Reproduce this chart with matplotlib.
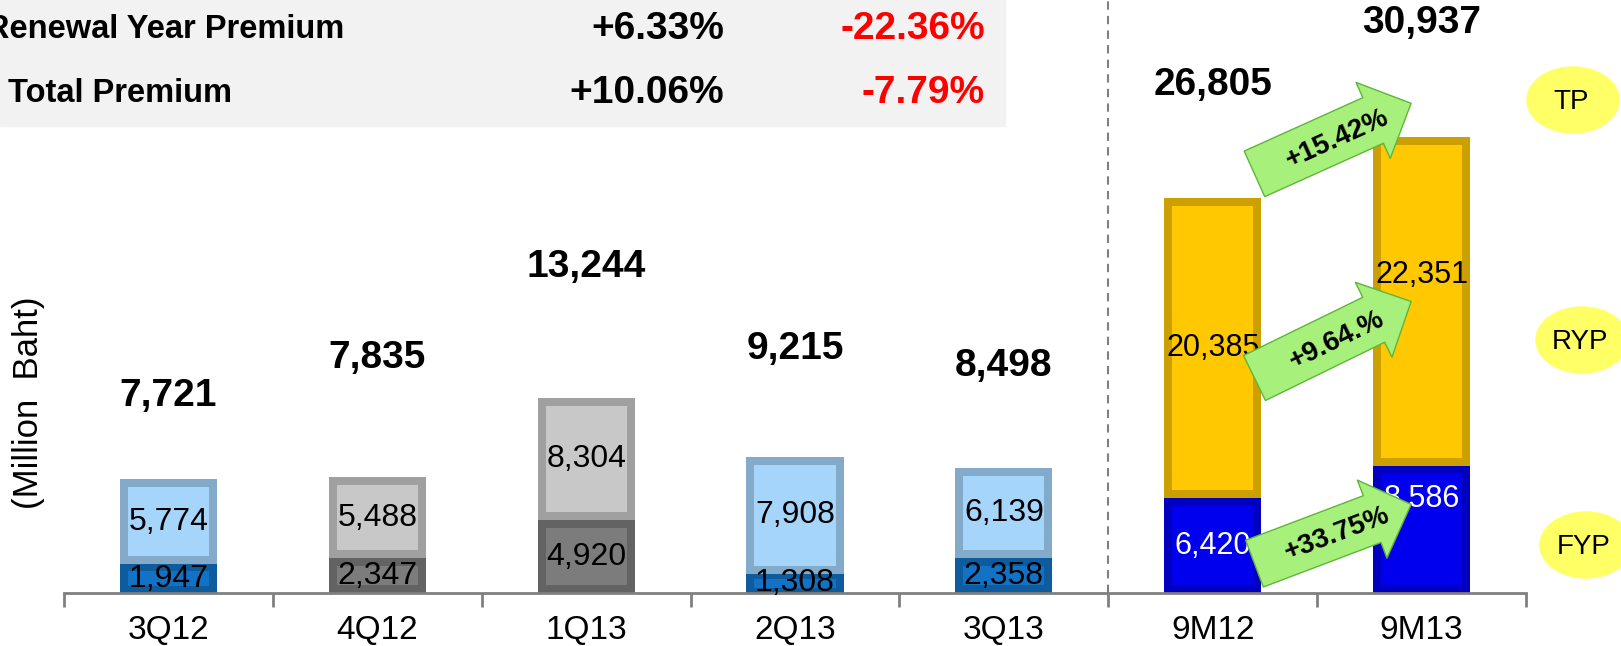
import numpy as np
import matplotlib.pyplot as plt
from matplotlib.patches import Ellipse, Rectangle
from matplotlib.colors import to_rgb

# Data
periods = ["3Q12", "4Q12", "1Q13", "2Q13", "3Q13", "9M12", "9M13"]
fyp = [1947, 2347, 4920, 1308, 2358, 6420, 8586]
ryp = [5774, 5488, 8304, 7908, 6139, 20385, 22351]
totals = [7721, 7835, 13244, 9215, 8498, 26805, 30937]

table_rows = ["Renewal Year Premium", "Total Premium"]
table_col1 = ["+6.33%", "+10.06%"]
table_col2 = ["-22.36%", "-7.79%"]

growth_labels = ["+15.42%", "+9.64.%", "+33.75%"]
tags = ["TP", "RYP", "FYP"]

# Styles
blue_l, blue_d = '#a5d5fb', '#1272c6'
gray_l, gray_d = '#c8c8c8', '#7c7c7c'
gold, royal = '#ffc800', '#0000ee'
ryp_colors = [blue_l, gray_l, gray_l, blue_l, blue_l, gold, gold]
fyp_colors = [blue_d, gray_d, gray_d, blue_d, blue_d, royal, royal]
fyp_txt = ['black'] * 5 + ['white'] * 2
total_off = [60, 86, 94, 78, 73, 81, 82]   # points above bar top
ryp_dy = [0, 0, 0, 0, 0, 0, 19]
fyp_dy = [0, 0, 0, 0, 0, 0, 22]
W = 0.465

plt.rcParams['font.family'] = ['Liberation Sans', 'DejaVu Sans']

fig = plt.figure(figsize=(16.21, 6.46), dpi=100)
ax = fig.add_axes([64 / 1621, 53 / 646, 1462 / 1621, 593 / 646])
ax.patch.set_visible(False)
ax.set_xlim(-0.5, 6.5)
ax.set_ylim(0, 40200)

px_y = 40200 / 593.0   # data units per pixel
px_x = 7 / 1462.0


def shade(c, f):
    return tuple(np.array(to_rgb(c)) * f)


def bevel_bar(x, bottom, h, color):
    # darker frame + inner face, a rough bevel look
    ix = 8 * px_x
    iy = min(8 * px_y, 0.25 * h)
    ax.bar(x, h, W, bottom=bottom, color=shade(color, 0.8), linewidth=0, zorder=2)
    ax.bar(x, h - 2 * iy, W - 2 * ix, bottom=bottom + iy, color=color,
           linewidth=0, zorder=3)


xs = np.arange(len(periods))
for i in xs:
    bevel_bar(i, 0, fyp[i], fyp_colors[i])
    bevel_bar(i, fyp[i], ryp[i], ryp_colors[i])
    fs = 23 if i < 5 else 22
    ax.annotate(f"{fyp[i]:,}", (i, fyp[i] / 2), xytext=(0, fyp_dy[i]),
                textcoords='offset points', ha='center', va='center',
                fontsize=fs, color=fyp_txt[i], zorder=5)
    ax.annotate(f"{ryp[i]:,}", (i, fyp[i] + ryp[i] / 2), xytext=(0, ryp_dy[i]),
                textcoords='offset points', ha='center', va='center',
                fontsize=fs, color='black', zorder=5)
    ax.annotate(f"{totals[i]:,}", (i, fyp[i] + ryp[i]), xytext=(0, total_off[i]),
                textcoords='offset points', ha='center', va='center',
                fontsize=28, fontweight='bold', color='black', zorder=5)

# growth arrows between 9M12 and 9M13
arrow_y = [(1.06 * totals[5], 1.073 * totals[6]),
           (fyp[5] + 0.4 * ryp[5], fyp[6] + 0.5 * ryp[6]),
           (0.31 * fyp[5], 0.70 * fyp[6])]
for (y0, y1), lab in zip(arrow_y, growth_labels):
    p0 = (5.2, y0)
    p1 = (5.95, y1)
    ax.annotate('', xy=p1, xytext=p0,
                arrowprops=dict(arrowstyle='simple,head_length=1.5,head_width=3.0,tail_width=1.8',
                                mutation_scale=20, fc='#a8f07c', ec='#5fb53a', lw=1,
                                shrinkA=0, shrinkB=0), zorder=6)
    d0 = ax.transData.transform(p0)
    d1 = ax.transData.transform(p1)
    ang = np.degrees(np.arctan2(d1[1] - d0[1], d1[0] - d0[0]))
    ax.text((p0[0] + p1[0]) / 2 + 0.02, (y0 + y1) / 2, lab, rotation=ang,
            rotation_mode='anchor', ha='center', va='center', fontsize=20,
            fontweight='bold', zorder=7)

# divider
ax.axvline(4.5, color='#808080', ls=(0, (4, 3)), lw=1.5, zorder=1)

# axes styling
for s in ['top', 'left', 'right']:
    ax.spines[s].set_visible(False)
ax.spines['bottom'].set_color('#808080')
ax.spines['bottom'].set_linewidth(2)
ax.set_yticks([])
ax.set_xticks(np.arange(-0.5, 7, 1))
ax.set_xticklabels([])
ax.tick_params(axis='x', which='major', length=10, width=2, color='#808080', direction='out')
ax.set_xticks(xs, minor=True)
ax.set_xticklabels(periods, minor=True, fontsize=24)
ax.tick_params(axis='x', which='minor', length=0, pad=16)

fig.text(29 / 1621, 1 - 403 / 646, "(Million  Baht)", rotation=90,
         ha='center', va='center', fontsize=25)

# table at the top
fig.add_artist(Rectangle((0, 1 - 126 / 646), 1005 / 1621, 126 / 646,
                         transform=fig.transFigure, color='#f2f2f2', zorder=0))
row_y = [29, 93]
row_x = [-14, 8]
for k in range(2):
    y = 1 - row_y[k] / 646
    fig.text(row_x[k] / 1621, y, table_rows[k], ha='left', va='center',
             fontsize=23.5, fontweight='bold')
    fig.text(724 / 1621, y, table_col1[k], ha='right', va='center',
             fontsize=28, fontweight='bold')
    fig.text(985 / 1621, y, table_col2[k], ha='right', va='center',
             fontsize=28, fontweight='bold', color='#ff0000')

# tag ellipses
ell = [(1573, 100), (1582, 340), (1586, 545)]
for (cx, cy), t in zip(ell, tags):
    fig.add_artist(Ellipse((cx / 1621, 1 - cy / 646), 92 / 1621, 66 / 646,
                           transform=fig.transFigure, color='#ffff66', zorder=1))
    fig.text((cx - 2) / 1621, 1 - (cy + 2) / 646, t, ha='center', va='center',
             fontsize=20, zorder=2)

fig.savefig('out.png', dpi=100)
